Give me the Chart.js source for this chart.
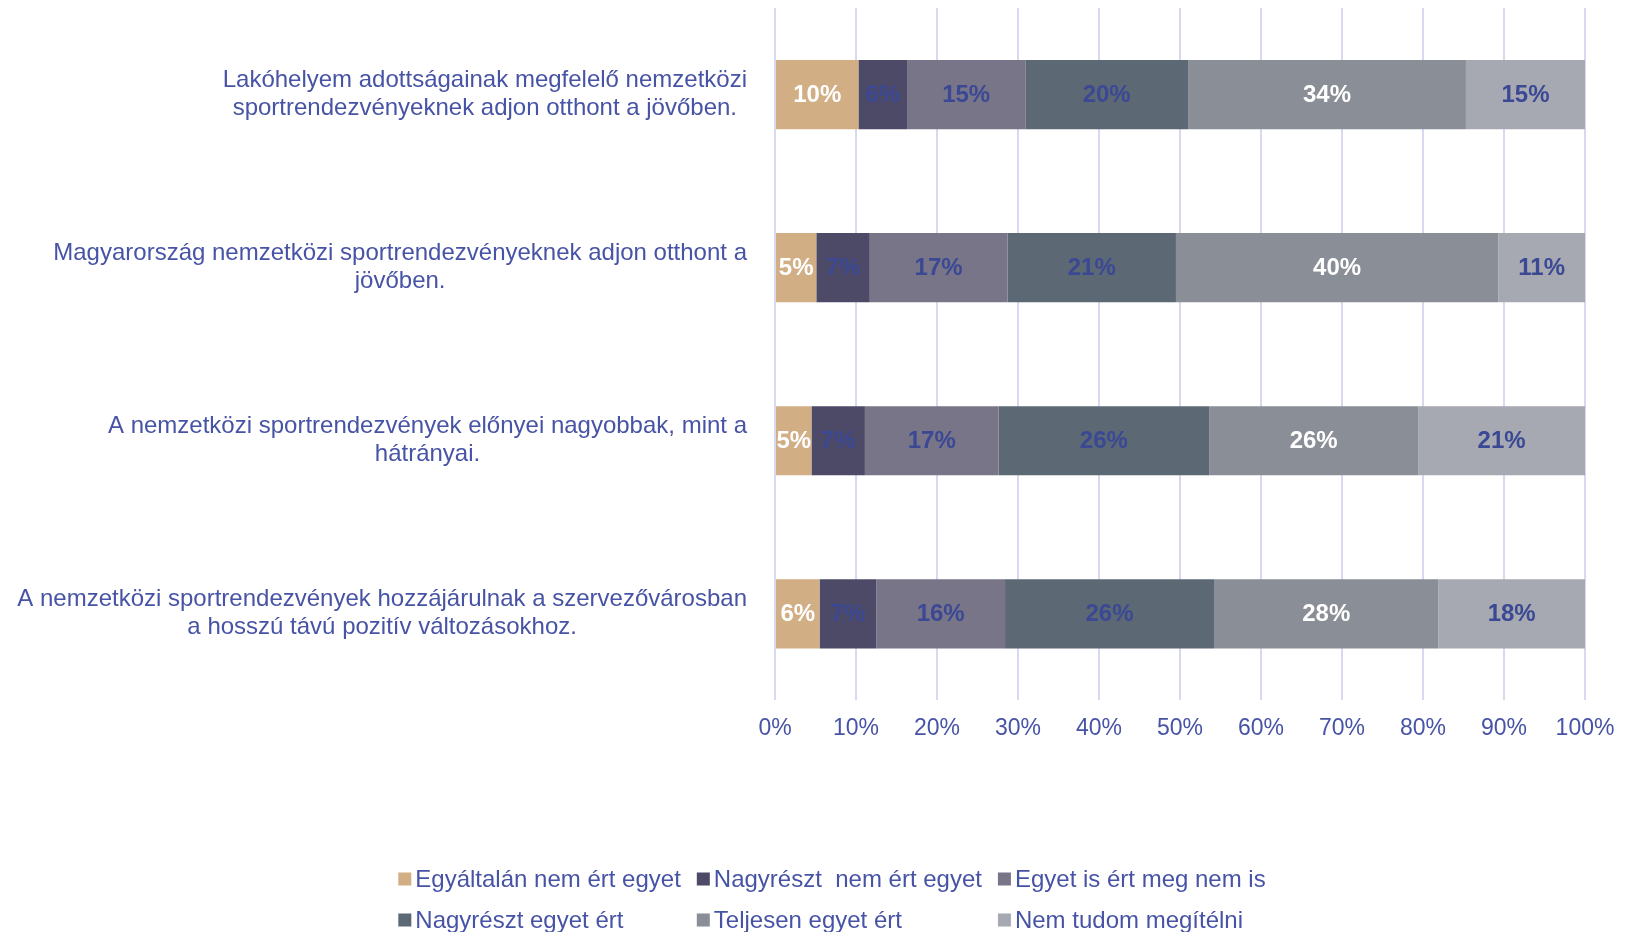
<!DOCTYPE html>
<html>
<head>
<meta charset="utf-8">
<script src="https://cdn.jsdelivr.net/npm/chart.js@4.4.1/dist/chart.umd.min.js"></script>
<style>
  html, body { margin: 0; padding: 0; background: #fff; }
  #wrap { width: 1642px; height: 932px; position: relative; }
</style>
</head>
<body>
<div id="wrap"><canvas id="chart"></canvas></div>
<script>
// statements (wrapped in two lines like the original)
const categories = [
    ['Lakóhelyem adottságainak megfelelő nemzetközi', 'sportrendezvényeknek adjon otthont a jövőben.'],
    ['Magyarország nemzetközi sportrendezvényeknek adjon otthont a', 'jövőben.'],
    ['A nemzetközi sportrendezvények előnyei nagyobbak, mint a', 'hátrányai.'],
    ['A nemzetközi sportrendezvények hozzájárulnak a szervezővárosban', 'a hosszú távú pozitív változásokhoz.']
];
const seriesNames = [
    'Egyáltalán nem ért egyet',
    'Nagyrészt  nem ért egyet',
    'Egyet is ért meg nem is',
    'Nagyrészt egyet ért',
    'Teljesen egyet ért',
    'Nem tudom megítélni'
];
// shares in %, one value per statement
const notAtAll    = [10.3, 5.1, 4.5, 5.5];
const mostlyNot   = [6.0, 6.6, 6.6, 7.0];
const neutral     = [14.6, 17.0, 16.5, 15.9];
const mostlyAgree = [20.1, 20.8, 26.0, 25.8];
const fullyAgree  = [34.3, 39.8, 25.8, 27.7];
const cantTell    = [14.7, 10.7, 20.6, 18.1];
const xTicks = [0, 10, 20, 30, 40, 50, 60, 70, 80, 90, 100];

const colors = ['#d1ae84', '#4d4a68', '#787589', '#5c6874', '#8a8e96', '#a6a9b1'];
const valueColors = ['#ffffff', '#3b4894', '#3b4894', '#3b4894', '#ffffff', '#3b4894'];
const textBlue = '#4753a5';
const FONT = "'Liberation Sans', Arial, sans-serif";

Chart.defaults.font.family = FONT;

// category labels: each block right aligned, lines centered inside it
const categoryLabels = {
    id: 'categoryLabels',
    afterDraw(chart) {
        const ctx = chart.ctx;
        const y = chart.scales.y;
        const right = chart.chartArea.left - 28;
        const lh = 28;
        ctx.save();
        ctx.font = '24px ' + FONT;
        ctx.fillStyle = textBlue;
        ctx.textAlign = 'center';
        ctx.textBaseline = 'middle';
        categories.forEach((lines, i) => {
            const cy = y.getPixelForTick(i);
            const widest = Math.max(...lines.map(l => ctx.measureText(l).width));
            const cx = right - widest / 2;
            const top = cy - (lines.length - 1) * lh / 2;
            lines.forEach((l, j) => ctx.fillText(l, cx, top + j * lh));
        });
        ctx.restore();
    }
};

// percentage inside each segment
const valueLabels = {
    id: 'valueLabels',
    afterDatasetsDraw(chart) {
        const ctx = chart.ctx;
        ctx.save();
        ctx.font = 'bold 24px ' + FONT;
        ctx.textAlign = 'center';
        ctx.textBaseline = 'middle';
        chart.data.datasets.forEach((ds, di) => {
            const meta = chart.getDatasetMeta(di);
            ctx.fillStyle = valueColors[di];
            meta.data.forEach((bar, i) => {
                const v = ds.data[i];
                ctx.fillText(Math.round(v) + '%', (bar.x + bar.base) / 2, bar.y + 1);
            });
        });
        ctx.restore();
    }
};

// legend in three aligned columns, two rows
const columnLegend = {
    id: 'columnLegend',
    afterDraw(chart) {
        const ctx = chart.ctx;
        const perRow = 3;
        const box = 13, gap = 4, colGap = 16;
        const rowsY = [879, 920];
        ctx.save();
        ctx.font = '24px ' + FONT;
        ctx.textBaseline = 'middle';
        const ds = chart.data.datasets;
        const colW = [];
        for (let c = 0; c < perRow; c++) {
            let w = 0;
            for (let i = c; i < ds.length; i += perRow) {
                w = Math.max(w, ctx.measureText(ds[i].label).width);
            }
            colW.push(box + gap + w + colGap);
        }
        const total = colW.reduce((a, b) => a + b, 0) - colGap;
        let x0 = (chart.width - total) / 2 + 11;
        ds.forEach((d, i) => {
            const c = i % perRow, r = Math.floor(i / perRow);
            let x = x0;
            for (let k = 0; k < c; k++) x += colW[k];
            const y = rowsY[r];
            ctx.fillStyle = d.backgroundColor;
            ctx.fillRect(x, y - box / 2, box, box);
            ctx.fillStyle = textBlue;
            ctx.fillText(d.label, x + box + gap, y + 1);
        });
        ctx.restore();
    }
};

const seriesData = [notAtAll, mostlyNot, neutral, mostlyAgree, fullyAgree, cantTell];

new Chart(document.getElementById('chart'), {
    type: 'bar',
    data: {
        labels: categories,
        datasets: seriesData.map((d, i) => ({
            label: seriesNames[i],
            data: d,
            backgroundColor: colors[i],
            borderWidth: 0,
            categoryPercentage: 1,
            barPercentage: 0.4
        }))
    },
    options: {
        indexAxis: 'y',
        responsive: true,
        maintainAspectRatio: false,
        animation: false,
        layout: {
            padding: { top: 8, right: 57, bottom: 176, left: 0 }
        },
        scales: {
            x: {
                stacked: true,
                min: 0,
                max: 100,
                afterBuildTicks(scale) {
                    scale.ticks = xTicks.map(v => ({ value: v }));
                },
                ticks: {
                    color: textBlue,
                    font: { size: 23 },
                    padding: 14,
                    callback: v => v + '%'
                },
                grid: {
                    color: '#d6d9ef',
                    lineWidth: 2,
                    drawTicks: false
                },
                border: { display: false }
            },
            y: {
                stacked: true,
                ticks: { display: false },
                grid: { display: false },
                border: { display: false },
                afterFit(scale) {
                    scale.width = 775;
                }
            }
        },
        plugins: {
            legend: { display: false },
            tooltip: { enabled: false }
        }
    },
    plugins: [categoryLabels, valueLabels, columnLegend]
});
</script>
</body>
</html>
